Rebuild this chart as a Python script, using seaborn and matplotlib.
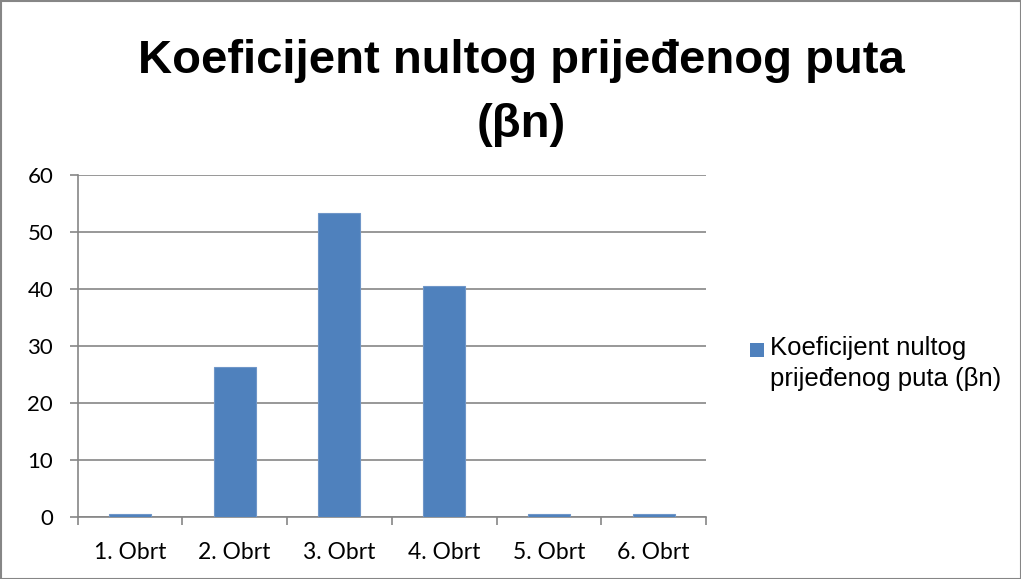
import matplotlib
matplotlib.use("Agg")
import matplotlib.pyplot as plt
import seaborn as sns
import pandas as pd
from matplotlib.patches import Rectangle

categories = ["1. Obrt", "2. Obrt", "3. Obrt", "4. Obrt", "5. Obrt", "6. Obrt"]
values = [0.4, 26.2, 53.25, 40.45, 0.4, 0.4]
series_name = "Koeficijent nultog prijeđenog puta (βn)"
title_lines = ["Koeficijent nultog prijeđenog puta", "(βn)"]
legend_lines = ["Koeficijent nultog", "prijeđenog puta (βn)"]
y_ticks = [0, 10, 20, 30, 40, 50, 60]

sns.set_theme(style="white")
plt.rcParams['font.family'] = ['Liberation Sans', 'DejaVu Sans']

W, H = 1021, 579
df = pd.DataFrame({"cat": categories, "val": values})

fig = plt.figure(figsize=(W / 100, H / 100), dpi=100)
ax_l, ax_r, ax_t, ax_b = 77.5, 706, 175, 516.7
ax = fig.add_axes([ax_l / W, 1 - ax_b / H, (ax_r - ax_l) / W, (ax_b - ax_t) / H])

bar_color = "#4F81BD"
grid_color = "#868686"

sns.barplot(data=df, x="cat", y="val", color=bar_color, width=0.4,
            saturation=1, ax=ax, edgecolor="#6F96C8", linewidth=0.8, zorder=3)

ax.set_xlim(-0.5, len(categories) - 0.5)
ax.set_ylim(0, 60)
ax.set_yticks(y_ticks)
ax.set_xlabel("")
ax.set_ylabel("")

for y in y_ticks:
    ax.axhline(y, color=grid_color, lw=1.2, zorder=1)

for s in ["top", "right"]:
    ax.spines[s].set_visible(False)
for s in ["left", "bottom"]:
    ax.spines[s].set_color(grid_color)
    ax.spines[s].set_linewidth(1.2)

ax.tick_params(axis="y", direction="out", length=5.5, width=1.2, color=grid_color,
               left=True, labelsize=16, pad=12)
ax.set_xticks(range(len(categories)))
ax.set_xticklabels(categories)
ax.tick_params(axis="x", which="major", length=0, labelsize=16.5, pad=18)
ax.set_xticks([i - 0.5 for i in range(len(categories) + 1)], minor=True)
ax.tick_params(axis="x", which="minor", direction="out", length=5.5, width=1.2,
               color=grid_color, bottom=True)
for lbl in ax.get_xticklabels() + ax.get_yticklabels():
    lbl.set_family(["Lato", "DejaVu Sans"])
    lbl.set_color("#000000")

# title (two lines)
fig.text(521.5 / W, 1 - 73 / H, title_lines[0], ha="center", va="baseline",
         fontsize=34, fontweight="bold", color="black")
fig.text(521.5 / W, 1 - 137 / H, title_lines[1], ha="center", va="baseline",
         fontsize=34, fontweight="bold", color="black")

# legend
fig.add_artist(Rectangle((750 / W, 1 - 357 / H), 13.5 / W, 14.5 / H,
                         transform=fig.transFigure, facecolor=bar_color,
                         edgecolor=bar_color, lw=0))
fig.text(770 / W, 1 - 355 / H, legend_lines[0], ha="left", va="baseline",
         fontsize=18.5, color="black")
fig.text(770 / W, 1 - 386 / H, legend_lines[1], ha="left", va="baseline",
         fontsize=18.5, color="black")

fig.add_artist(Rectangle((0.5 / W, 0.5 / H), 1 - 1 / W, 1 - 1 / H,
                         transform=fig.transFigure, fill=False,
                         edgecolor="#868686", lw=1.5))

fig.savefig("out.png", dpi=100, facecolor="white")
